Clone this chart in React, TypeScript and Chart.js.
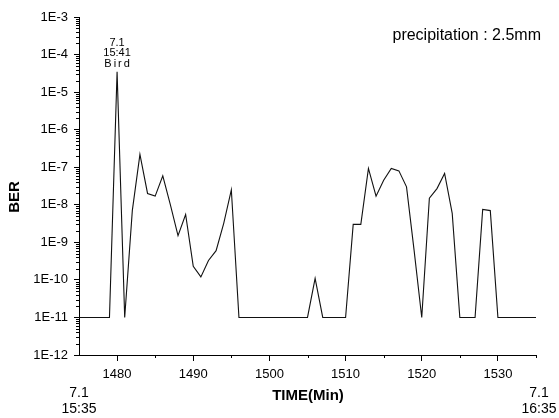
import { useEffect, useRef } from "react";
import { Chart, registerables } from "chart.js";

Chart.register(...registerables);

// ---- data ----
const minutes = [
  1475, 1476, 1477, 1478, 1479, 1480, 1481, 1482, 1483, 1484,
  1485, 1486, 1487, 1488, 1489, 1490, 1491, 1492, 1493, 1494,
  1495, 1496, 1497, 1498, 1499, 1500, 1501, 1502, 1503, 1504,
  1505, 1506, 1507, 1508, 1509, 1510, 1511, 1512, 1513, 1514,
  1515, 1516, 1517, 1518, 1519, 1520, 1521, 1522, 1523, 1524,
  1525, 1526, 1527, 1528, 1529, 1530, 1531, 1532, 1533, 1534,
  1535,
];
const ber = [
  1e-11, 1e-11, 1e-11, 1e-11, 1e-11, 3.5e-5, 1e-11, 7e-9, 2.2e-7, 2e-8,
  1.7e-8, 5.9e-8, 1e-8, 1.5e-9, 5.5e-9, 2.3e-10, 1.2e-10, 3.3e-10, 6e-10, 3.2e-9,
  2.5e-8, 1e-11, 1e-11, 1e-11, 1e-11, 1e-11, 1e-11, 1e-11, 1e-11, 1e-11,
  1e-11, 1.1e-10, 1e-11, 1e-11, 1e-11, 1e-11, 3e-9, 3e-9, 9.3e-8, 1.7e-8,
  4.5e-8, 9.3e-8, 8e-8, 3e-8, 6e-10, 1e-11, 1.5e-8, 2.7e-8, 6.8e-8, 5.9e-9,
  1e-11, 1e-11, 1e-11, 7.5e-9, 7e-9, 1e-11, 1e-11, 1e-11, 1e-11, 1e-11,
  1e-11,
];
const xMajorTicks = [1480, 1490, 1500, 1510, 1520, 1530];
const xMinorTicks = [1485, 1495, 1505, 1515, 1525, 1535];
const yExponents = [-12, -11, -10, -9, -8, -7, -6, -5, -4, -3];
const yMinorMantissas = [2, 3, 4, 5, 6, 7, 8, 9];
const startLabel = ["7.1", "15:35"];
const endLabel = ["7.1", "16:35"];
const eventMinute = 1480;
const eventLabel = ["7.1", "15:41", "Bird"];
const noteText = "precipitation : 2.5mm";
const xTitle = "TIME(Min)";
const yTitle = "BER";

const FONT = "'Liberation Sans', Arial, sans-serif";

const overlay = {
  id: "overlay",
  afterDraw(chart: any) {
    const ctx = chart.ctx as CanvasRenderingContext2D;
    const xs = chart.scales.x;
    const ys = chart.scales.y;
    const area = chart.chartArea;
    ctx.save();
    ctx.strokeStyle = "#000";
    ctx.lineWidth = 1;
    // minor x ticks
    ctx.beginPath();
    for (const v of xMinorTicks) {
      const px = Math.round(xs.getPixelForValue(v)) + 0.5;
      ctx.moveTo(px, area.bottom);
      ctx.lineTo(px, area.bottom + 3);
    }
    // minor y ticks
    for (const e of yExponents.slice(0, -1)) {
      for (const m of yMinorMantissas) {
        const py = Math.round(ys.getPixelForValue(m * Math.pow(10, e))) + 0.5;
        ctx.moveTo(area.left - 3, py);
        ctx.lineTo(area.left + 1, py);
      }
    }
    ctx.stroke();

    ctx.fillStyle = "#000";
    // event annotation
    const ex = xs.getPixelForValue(eventMinute);
    const peak = ys.getPixelForValue(ber[minutes.indexOf(eventMinute)]);
    ctx.font = `11px ${FONT}`;
    ctx.textAlign = "center";
    ctx.textBaseline = "alphabetic";
    ctx.fillText(eventLabel[0], ex, peak - 26);
    ctx.fillText(eventLabel[1], ex, peak - 16);
    (ctx as any).letterSpacing = "2px";
    ctx.fillText(eventLabel[2], ex + 1, peak - 5);
    (ctx as any).letterSpacing = "0px";

    // note
    ctx.font = `16px ${FONT}`;
    ctx.textAlign = "right";
    ctx.fillText(noteText, area.right + 5, 40);

    // start / end date labels
    ctx.font = `14px ${FONT}`;
    ctx.textAlign = "center";
    ctx.fillText(startLabel[0], area.left, 397);
    ctx.fillText(startLabel[1], area.left, 413);
    ctx.fillText(endLabel[0], area.right + 3, 397);
    ctx.fillText(endLabel[1], area.right + 3, 413);

    // axis titles
    ctx.font = `bold 15px ${FONT}`;
    ctx.fillText(xTitle, 308, 400);
    ctx.translate(15, 197);
    ctx.rotate(-Math.PI / 2);
    ctx.textBaseline = "middle";
    ctx.fillText(yTitle, 0, 0);
    ctx.restore();
  },
};

export default function App() {
  const ref = useRef<HTMLCanvasElement>(null);
  useEffect(() => {
    if (!ref.current) return;
    const chart = new Chart(ref.current, {
      type: "line",
      data: {
        datasets: [
          {
            data: minutes.map((m, i) => ({ x: m, y: ber[i] })),
            borderColor: "#111",
            borderWidth: 1.1,
            pointRadius: 0,
            tension: 0,
            fill: false,
          },
        ],
      },
      options: {
        responsive: false,
        animation: false,
        layout: { padding: { top: 17, right: 23, left: 0, bottom: 0 } },
        plugins: { legend: { display: false }, tooltip: { enabled: false } },
        scales: {
          x: {
            type: "linear",
            min: 1475,
            max: 1535,
            afterBuildTicks: (s: any) => {
              s.ticks = xMajorTicks.map((v) => ({ value: v }));
            },
            afterFit: (s: any) => {
              s.height = 63;
            },
            ticks: {
              color: "#000",
              font: { family: FONT, size: 13 },
              padding: 6,
              maxRotation: 0,
              callback: (v: any) => String(v),
            },
            grid: { drawOnChartArea: false, tickLength: 6, color: "#000" },
            border: { color: "#000", width: 1 },
          },
          y: {
            type: "logarithmic",
            min: 1e-12,
            max: 1e-3,
            afterBuildTicks: (s: any) => {
              s.ticks = yExponents.map((e) => ({ value: Math.pow(10, e) }));
            },
            afterFit: (s: any) => {
              s.width = 79;
            },
            ticks: {
              color: "#000",
              font: { family: FONT, size: 13 },
              padding: 6,
              callback: (v: any) => `1E${Math.round(Math.log10(Number(v)))}`,
            },
            grid: { drawOnChartArea: false, tickLength: 5, color: "#000" },
            border: { color: "#000", width: 1 },
          },
        },
      },
      plugins: [overlay],
    });
    return () => chart.destroy();
  }, []);
  return (
    <div style={{ position: "absolute", left: 0, top: 0, width: 559, height: 418, background: "#fff" }}>
      <canvas ref={ref} width={559} height={418} />
    </div>
  );
}
